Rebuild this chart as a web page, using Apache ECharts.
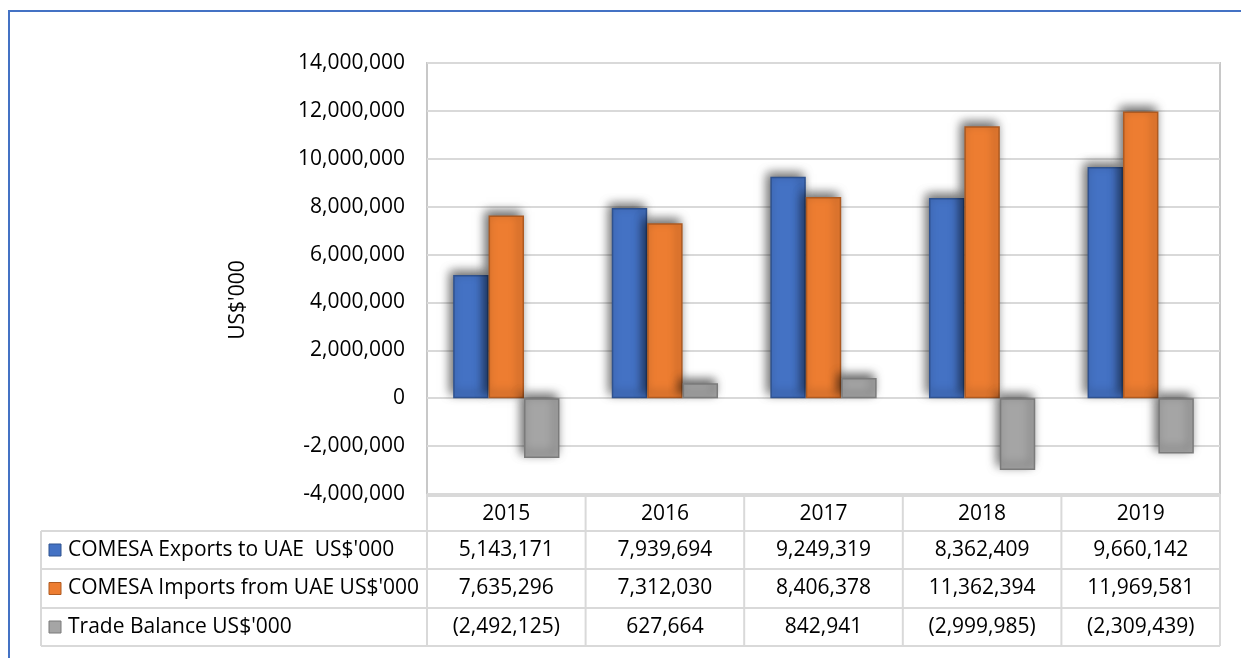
<!DOCTYPE html>
<html>
<head>
<meta charset="utf-8">
<script src="https://cdn.jsdelivr.net/npm/echarts@6/dist/echarts.min.js"></script>
<style>
html,body{margin:0;padding:0;background:#fff;}
#c{width:1241px;height:658px;}
</style>
</head>
<body>
<div id="c"></div>
<script>
// ---- data ----
const categories = ['2015', '2016', '2017', '2018', '2019'];
const exportsUAE = [5143171, 7939694, 9249319, 8362409, 9660142];
const importsUAE = [7635296, 7312030, 8406378, 11362394, 11969581];
const tradeBalance = [-2492125, 627664, 842941, -2999985, -2309439];
const seriesNames = ["COMESA Exports to UAE  US$'000", "COMESA Imports from UAE US$'000", "Trade Balance US$'000"];
const yMin = -4000000, yMax = 14000000, yStep = 2000000;
const yAxisTitle = "US$'000";

// ---- styles / layout ----
const FONT = 'Open Sans';
const FS = 21;
const colors = ['#4472C4', '#ED7D31', '#A5A5A5'];
const borders = ['#2F528F', '#AE5A21', '#7B7B7B'];
const G = {left: 427, right: 1220, top: 63, bottom: 494};
const rowLines = [531, 569, 608, 646];
const headerTop = 496;
const tableLeft = 41;
const lineCol = '#D9D9D9';

const seriesData = [exportsUAE, importsUAE, tradeBalance];
const fmtAxis = v => v.toLocaleString('en-US');
const fmtCell = v => v < 0 ? '(' + Math.abs(v).toLocaleString('en-US') + ')' : v.toLocaleString('en-US');

const chart = echarts.init(document.getElementById('c'), null, {renderer: 'canvas'});

const colW = (G.right - G.left) / categories.length;
const graphics = [];
// outer frame (top and left lines)
graphics.push({type: 'polyline', silent: true, shape: {points: [[9, 658], [9, 11], [1241, 11]]},
  style: {stroke: '#4472C4', lineWidth: 2, fill: null}});
// table lines
graphics.push({type: 'line', shape: {x1: G.left, y1: headerTop, x2: G.right, y2: headerTop}, style: {stroke: lineCol, lineWidth: 2}});
rowLines.forEach(y => graphics.push({type: 'line', shape: {x1: tableLeft, y1: y, x2: G.right, y2: y}, style: {stroke: lineCol, lineWidth: 2}}));
graphics.push({type: 'line', shape: {x1: tableLeft, y1: rowLines[0], x2: tableLeft, y2: rowLines[3]}, style: {stroke: lineCol, lineWidth: 2}});
for (let i = 0; i <= categories.length; i++) {
  const x = G.left + i * colW;
  graphics.push({type: 'line', shape: {x1: x, y1: G.bottom, x2: x, y2: rowLines[3]}, style: {stroke: lineCol, lineWidth: 2}});
}
// header years
categories.forEach((c, i) => {
  graphics.push({type: 'text', x: G.left + (i + 0.5) * colW, y: (headerTop + rowLines[0]) / 2 + 1,
    style: {text: c, fontFamily: FONT, fontSize: FS, fill: '#000', align: 'center', verticalAlign: 'middle'}});
});
// rows
seriesData.forEach((arr, r) => {
  const cy = (rowLines[r] + rowLines[r + 1]) / 2;
  graphics.push({type: 'rect', shape: {x: 49, y: cy - 6, width: 12, height: 12},
    style: {fill: colors[r], stroke: borders[r], lineWidth: 1}});
  graphics.push({type: 'text', x: 68, y: cy,
    style: {text: seriesNames[r], fontFamily: FONT, fontSize: FS, fill: '#000', align: 'left', verticalAlign: 'middle'}});
  arr.forEach((v, i) => {
    graphics.push({type: 'text', x: G.left + (i + 0.5) * colW, y: cy,
      style: {text: fmtCell(v), fontFamily: FONT, fontSize: FS, fill: '#000', align: 'center', verticalAlign: 'middle'}});
  });
});
// y axis title
graphics.push({type: 'text', x: 238, y: 300, rotation: Math.PI / 2,
  style: {text: yAxisTitle, fontFamily: FONT, fontSize: FS, fill: '#000', align: 'center', verticalAlign: 'middle'}});

const option = {
  backgroundColor: '#fff',
  animation: false,
  grid: {left: G.left, right: 1241 - G.right, top: G.top, bottom: 658 - G.bottom,
    show: true, borderColor: '#C8C8C8', borderWidth: 2, backgroundColor: 'transparent'},
  xAxis: {type: 'category', data: categories, axisLabel: {show: false}, axisTick: {show: false},
    axisLine: {show: false}, splitLine: {show: false}},
  yAxis: {type: 'value', min: yMin, max: yMax, interval: yStep,
    axisLine: {show: false}, axisTick: {show: false},
    axisLabel: {formatter: fmtAxis, fontFamily: FONT, fontSize: FS, color: '#000', margin: 22},
    splitLine: {lineStyle: {color: '#D9D9D9', width: 2}}},
  series: seriesData.map((arr, k) => ({
    name: seriesNames[k], type: 'bar', data: arr,
    barGap: '0%', barCategoryGap: '33%',
    itemStyle: {color: colors[k], borderColor: borders[k], borderWidth: 1.5,
      shadowBlur: 10, shadowOffsetX: -3, shadowOffsetY: -4, shadowColor: 'rgba(0,0,0,0.6)'}
  })),
  graphic: graphics
};
chart.setOption(option);
</script>
</body>
</html>
